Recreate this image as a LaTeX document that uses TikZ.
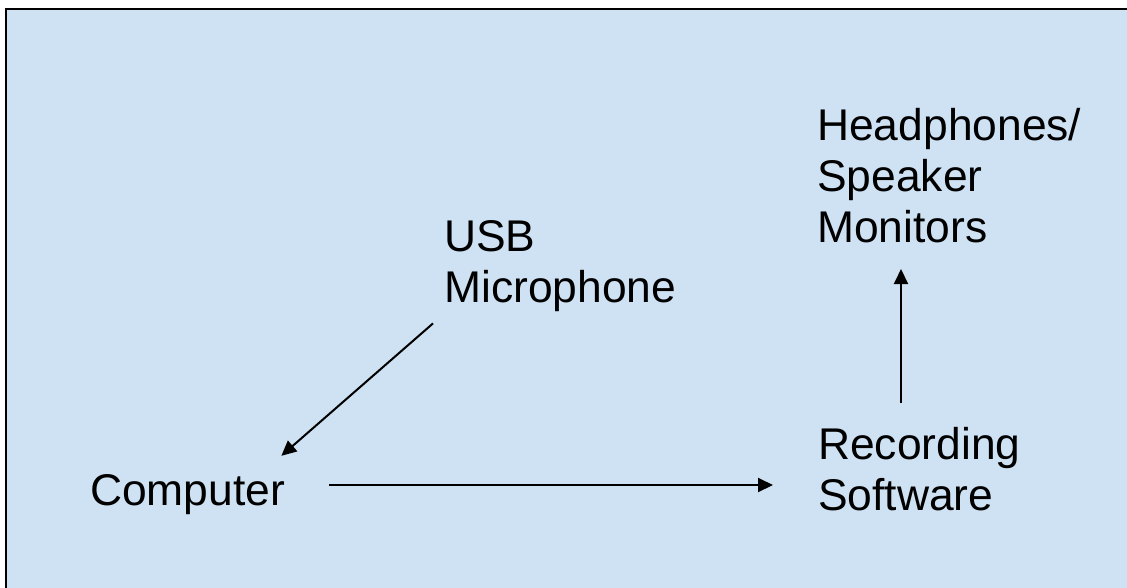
\documentclass[tikz,border=0pt]{standalone}
\usepackage{fontspec}
\setmainfont{Liberation Sans}
\usetikzlibrary{arrows.meta,calc}
\definecolor{panel}{RGB}{207,226,243}
\begin{document}
\begin{tikzpicture}[x=1pt,y=-1pt,
  caption/.style={inner sep=0pt, align=left, text=black,
    font=\fontsize{44.4pt}{51pt}\selectfont},
  flow/.style={line width=2pt, -{Triangle[length=15pt,width=14pt]}}]
  \useasboundingbox (0,0) rectangle (1127,587);
  \fill[white] (0,0) rectangle (1127,587);
  % light blue panel, its frame running off the right and bottom edges
  \begin{scope}
    \clip (0,0) rectangle (1127,587);
    \filldraw[fill=panel, draw=black, line width=2.5pt] (6,9) rectangle (1140,600);
  \end{scope}

  \node[caption, anchor=south west] (head) at (817,243) {Headphones/\\Speaker\\Monitors};
  \node[caption, anchor=south west] (mic) at (444,312.4) {USB\\Microphone};
  \node[caption, anchor=south west] (rec) at (818,511) {Recording\\Software};
  \node[caption, anchor=base west] (comp) at (90,505) {Computer};

  \draw[flow] ($(mic.south west)+(-11,11)$) -- ($(comp.north east)+(-4,-18)$);
  \draw[flow] let \p1=($(comp.base east)+(44,-20)$), \p2=(rec.west) in
    (\p1) -- (\x2-45pt,\y1);
  \draw[flow] let \p1=($(head.south west)+(84,26)$), \p2=(rec.north) in
    (\x1,\y2+24pt) -- (\p1);
\end{tikzpicture}
\end{document}
